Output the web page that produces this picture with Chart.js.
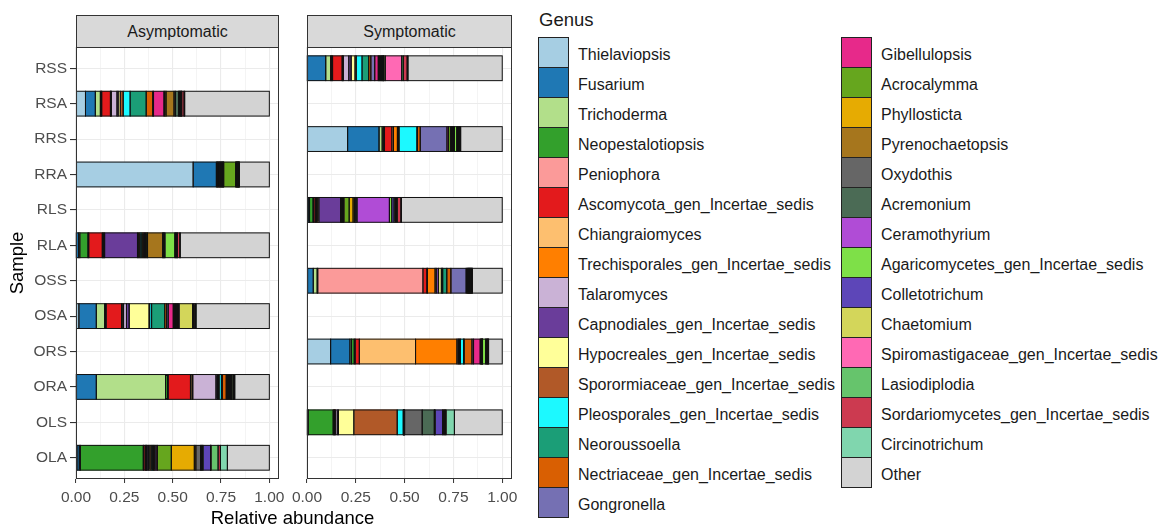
<!DOCTYPE html>
<html>
<head>
<meta charset="utf-8">
<script src="https://cdn.jsdelivr.net/npm/chart.js@4.4.1/dist/chart.umd.min.js"></script>
<style>
  html, body { margin: 0; padding: 0; background: #fff; }
  body { width: 1168px; height: 527px; position: relative; overflow: hidden;
         font-family: "Liberation Sans", Arial, sans-serif; }
  canvas { position: absolute; top: 0; }
  .strip { position: absolute; top: 15px; height: 33px; box-sizing: border-box;
           background: #D9D9D9; border: 1px solid #333; color: #1A1A1A; font-size: 16px;
           display: flex; align-items: center; justify-content: center; }
  .xtitle { position: absolute; left: 292.5px; top: 509px; transform: translateX(-50%);
            font-size: 18.5px; line-height: 1; color: #000; white-space: nowrap; }
  .legend-title { position: absolute; left: 539px; top: 11px; font-size: 18.5px; line-height: 1; color: #1A1A1A; }
  .key { position: absolute; width: 31px; height: 31px; box-sizing: border-box; border: 1px solid #222; }
  .key-label { position: absolute; height: 31px; line-height: 31px; font-size: 16px; color: #1A1A1A; white-space: nowrap; }
</style>
</head>
<body>
<div class="strip" style="left:76px;width:203px;">Asymptomatic</div>
<div class="strip" style="left:307px;width:205px;">Symptomatic</div>
<canvas id="panelA" width="290" height="527" style="left:0px"></canvas>
<canvas id="panelS" width="245" height="527" style="left:285px"></canvas>
<div class="xtitle">Relative abundance</div>
<div class="legend-title">Genus</div>
<div id="legend"></div>

<script>
// Samples, top to bottom
const samples = ['RSS', 'RSA', 'RRS', 'RRA', 'RLS', 'RLA', 'OSS', 'OSA', 'ORS', 'ORA', 'OLS', 'OLA'];
const asymptomaticSamples = ['RSA', 'RRA', 'RLA', 'OSA', 'ORA', 'OLA'];
const symptomaticSamples = ['RSS', 'RRS', 'RLS', 'OSS', 'ORS', 'OLS'];

// Genera in stacking / legend order
const genera = [
  'Thielaviopsis', 'Fusarium', 'Trichoderma', 'Neopestalotiopsis', 'Peniophora',
  'Ascomycota_gen_Incertae_sedis', 'Chiangraiomyces', 'Trechisporales_gen_Incertae_sedis',
  'Talaromyces', 'Capnodiales_gen_Incertae_sedis', 'Hypocreales_gen_Incertae_sedis',
  'Sporormiaceae_gen_Incertae_sedis', 'Pleosporales_gen_Incertae_sedis', 'Neoroussoella',
  'Nectriaceae_gen_Incertae_sedis', 'Gongronella',
  'Gibellulopsis', 'Acrocalymma', 'Phyllosticta', 'Pyrenochaetopsis', 'Oxydothis',
  'Acremonium', 'Ceramothyrium', 'Agaricomycetes_gen_Incertae_sedis', 'Colletotrichum',
  'Chaetomium', 'Spiromastigaceae_gen_Incertae_sedis', 'Lasiodiplodia',
  'Sordariomycetes_gen_Incertae_sedis', 'Circinotrichum', 'Other'
];
const genusColours = [
  '#A6CEE3', '#1F78B4', '#B2DF8A', '#33A02C', '#FB9A99',
  '#E31A1C', '#FDBF6F', '#FF7F00',
  '#CAB2D6', '#6A3D9A', '#FFFF99',
  '#B15928', '#1CF9FF', '#1B9E77',
  '#D95F02', '#7570B3',
  '#E7298A', '#66A61E', '#E6AB02', '#A6761D', '#666666',
  '#4B6B55', '#B04CD6', '#7EE048', '#5D46B8',
  '#D3D65A', '#FF69B4', '#66C46C',
  '#CC3A50', '#80D6AE', '#D3D3D3'
];

// Relative abundance per sample, one value per genus (same order as genera)
const RSS = [0.002, 0.094, 0.025, 0.005, 0.005, 0.049, 0.003, 0.003, 0.028, 0.012, 0.020, 0.006, 0.030, 0.034, 0.011, 0.020,
             0.018, 0.005, 0.005, 0.005, 0.004, 0.004, 0.002, 0.002, 0.002, 0.007, 0.084, 0.008, 0.020, 0.004, 0.483];
const RSA = [0.049, 0.051, 0.026, 0.004, 0.003, 0.045, 0.002, 0.003, 0.029, 0.006, 0.011, 0.015, 0.036, 0.083, 0.034, 0.004,
             0.054, 0.005, 0.006, 0.041, 0.007, 0.017, 0.003, 0.003, 0.003, 0.003, 0.002, 0.002, 0.012, 0.003, 0.438];
const RRS = [0.208, 0.161, 0.016, 0.006, 0.006, 0.038, 0.008, 0.020, 0.003, 0.002, 0.002, 0.001, 0.092, 0.003, 0.014, 0.137,
             0.008, 0.011, 0.004, 0.004, 0.004, 0.004, 0.003, 0.012, 0.004, 0.004, 0.003, 0.003, 0.003, 0.003, 0.213];
const RRA = [0.606, 0.120, 0.003, 0.003, 0.002, 0.004, 0.002, 0.002, 0.003, 0.003, 0.002, 0.003, 0.002, 0.003, 0.002, 0.002,
             0.002, 0.062, 0.002, 0.002, 0.002, 0.002, 0.001, 0.002, 0.001, 0.002, 0.001, 0.002, 0.001, 0.001, 0.155];
const RLS = [0.004, 0.006, 0.003, 0.018, 0.004, 0.008, 0.006, 0.006, 0.006, 0.111, 0.002, 0.003, 0.002, 0.003, 0.003, 0.002,
             0.002, 0.027, 0.020, 0.008, 0.006, 0.006, 0.166, 0.012, 0.012, 0.006, 0.005, 0.005, 0.019, 0.003, 0.516];
const RLA = [0.002, 0.012, 0.006, 0.042, 0.004, 0.070, 0.004, 0.004, 0.004, 0.170, 0.006, 0.006, 0.006, 0.006, 0.006, 0.006,
             0.006, 0.006, 0.004, 0.078, 0.004, 0.004, 0.004, 0.051, 0.004, 0.004, 0.003, 0.003, 0.012, 0.002, 0.461];
const OSS = [0.003, 0.029, 0.020, 0.003, 0.539, 0.020, 0.003, 0.039, 0.006, 0.012, 0.014, 0.004, 0.003, 0.021, 0.021, 0.078,
             0.004, 0.003, 0.003, 0.002, 0.002, 0.002, 0.002, 0.002, 0.002, 0.002, 0.002, 0.002, 0.003, 0.001, 0.153];
const OSA = [0.015, 0.090, 0.043, 0.005, 0.003, 0.080, 0.003, 0.007, 0.015, 0.014, 0.103, 0.003, 0.010, 0.068, 0.010, 0.008,
             0.026, 0.004, 0.004, 0.004, 0.004, 0.004, 0.003, 0.003, 0.004, 0.070, 0.004, 0.004, 0.006, 0.004, 0.379];
const ORS = [0.121, 0.099, 0.008, 0.014, 0.005, 0.021, 0.288, 0.212, 0.006, 0.004, 0.004, 0.004, 0.016, 0.003, 0.040, 0.008,
             0.034, 0.003, 0.003, 0.002, 0.002, 0.001, 0.001, 0.016, 0.003, 0.003, 0.003, 0.002, 0.002, 0.002, 0.070];
const ORA = [0.002, 0.103, 0.358, 0.010, 0.004, 0.115, 0.008, 0.004, 0.120, 0.006, 0.005, 0.005, 0.012, 0.005, 0.020, 0.005,
             0.005, 0.005, 0.005, 0.004, 0.002, 0.002, 0.002, 0.008, 0.001, 0.001, 0.001, 0.001, 0.001, 0.001, 0.179];
const OLS = [0.002, 0.002, 0.002, 0.128, 0.003, 0.004, 0.002, 0.002, 0.010, 0.006, 0.079, 0.222, 0.031, 0.001, 0.001, 0.001,
             0.001, 0.001, 0.001, 0.001, 0.090, 0.062, 0.002, 0.002, 0.038, 0.005, 0.005, 0.004, 0.004, 0.043, 0.245];
const OLA = [0.005, 0.012, 0.006, 0.325, 0.003, 0.008, 0.003, 0.003, 0.003, 0.008, 0.006, 0.007, 0.006, 0.006, 0.006, 0.007,
             0.007, 0.072, 0.119, 0.008, 0.024, 0.005, 0.004, 0.004, 0.039, 0.001, 0.001, 0.037, 0.012, 0.036, 0.217];

// Axis breaks
const xMajorTicks = [0, 0.25, 0.5, 0.75, 1];

const abundance = { RSS, RSA, RRS, RRA, RLS, RLA, OSS, OSA, ORS, ORA, OLS, OLA };

const FONT = '"Liberation Sans", Arial, sans-serif';
Chart.defaults.font.family = FONT;

// Major breaks plus the minor breaks halfway between them
const xGridValues = [];
xMajorTicks.forEach((v, i) => {
  xGridValues.push(v);
  if (i < xMajorTicks.length - 1) xGridValues.push((v + xMajorTicks[i + 1]) / 2);
});
const isMajor = v => xMajorTicks.some(m => Math.abs(m - v) < 1e-9);

function datasetsFor(group) {
  return genera.map((g, gi) => ({
    label: g,
    data: group.map(s => ({ x: abundance[s][gi], y: samples.indexOf(s) })),
    backgroundColor: genusColours[gi],
    borderWidth: 0,
    barThickness: 24.8
  }));
}

// Each stacked segment gets an outline centred on its edges, so that very
// small segments still show up as a dark line
const segmentOutlines = {
  id: 'segmentOutlines',
  afterDatasetsDraw(chart) {
    const { ctx } = chart;
    ctx.save();
    ctx.strokeStyle = '#111111';
    ctx.lineWidth = 1;
    chart.data.datasets.forEach((ds, di) => {
      const meta = chart.getDatasetMeta(di);
      if (meta.hidden) return;
      meta.data.forEach(bar => {
        const { x, y, base, height } = bar.getProps(['x', 'y', 'base', 'height'], true);
        const left = Math.min(x, base);
        const w = Math.abs(x - base);
        ctx.strokeRect(left, y - height / 2, w, height);
      });
    });
    ctx.restore();
  }
};

// Panel border drawn on top of the bars
const panelBorder = {
  id: 'panelBorder',
  afterDraw(chart) {
    const { ctx, chartArea: a } = chart;
    ctx.save();
    ctx.strokeStyle = '#333333';
    ctx.lineWidth = 1;
    ctx.strokeRect(a.left + 0.5, a.top + 0.5, a.right - a.left - 1, a.bottom - a.top - 1);
    ctx.restore();
  }
};

function panelOptions(showY, padding, yWidth) {
  return {
    indexAxis: 'y',
    responsive: false,
    animation: false,
    layout: { padding },
    plugins: { legend: { display: false }, tooltip: { enabled: false } },
    scales: {
      x: {
        type: 'linear', stacked: true, min: 0, max: 1.05, offset: false,
        afterBuildTicks: s => { s.ticks = xGridValues.map(v => ({ value: v })); },
        afterFit: s => { s.height = 30; },
        border: { display: false },
        grid: {
          offset: false,
          color: '#EBEBEB',
          lineWidth: c => (c.tick && isMajor(c.tick.value)) ? 1.1 : 0.55,
          drawTicks: true, tickLength: 4, tickWidth: 1,
          tickColor: c => (c.tick && isMajor(c.tick.value)) ? '#333333' : 'rgba(0,0,0,0)'
        },
        ticks: {
          color: '#4D4D4D', font: { size: 15.5 }, padding: 5, maxRotation: 0, autoSkip: false,
          callback: v => isMajor(v) ? Number(v).toFixed(2) : ''
        }
      },
      y: {
        type: 'linear', stacked: true, reverse: true, offset: false,
        min: -0.6, max: samples.length - 0.4,
        afterBuildTicks: s => { s.ticks = samples.map((_, i) => ({ value: i })); },
        afterFit: s => { s.width = yWidth; },
        border: { display: false },
        grid: { offset: false, color: '#EBEBEB', lineWidth: 1.1, drawTicks: showY, tickLength: 6, tickColor: '#333333' },
        ticks: {
          display: showY, color: '#4D4D4D', font: { size: 15.5 }, padding: 3, autoSkip: false,
          callback: v => samples[Math.round(v)]
        },
        title: {
          display: showY, text: 'Sample', color: '#000', font: { size: 18.5 },
          padding: { top: 7, bottom: 0 }
        }
      }
    }
  };
}

new Chart(document.getElementById('panelA'), {
  type: 'bar',
  data: { datasets: datasetsFor(asymptomaticSamples) },
  options: panelOptions(true, { left: 0, right: 11, top: 47, bottom: 18 }, 76),
  plugins: [segmentOutlines, panelBorder]
});

new Chart(document.getElementById('panelS'), {
  type: 'bar',
  data: { datasets: datasetsFor(symptomaticSamples) },
  options: panelOptions(false, { left: 22, right: 18, top: 47, bottom: 18 }, 0),
  plugins: [segmentOutlines, panelBorder]
});

// Two-column legend
const legend = document.getElementById('legend');
const perColumn = 16;
genera.forEach((g, i) => {
  const col = Math.floor(i / perColumn);
  const row = i % perColumn;
  const left = col === 0 ? 538 : 841;
  const top = 37 + 30 * row;
  const key = document.createElement('div');
  key.className = 'key';
  key.style.left = left + 'px';
  key.style.top = top + 'px';
  key.style.background = genusColours[i];
  legend.appendChild(key);
  const label = document.createElement('div');
  label.className = 'key-label';
  label.style.left = (left + 40) + 'px';
  label.style.top = (top + 2) + 'px';
  label.textContent = g;
  legend.appendChild(label);
});
</script>
</body>
</html>
